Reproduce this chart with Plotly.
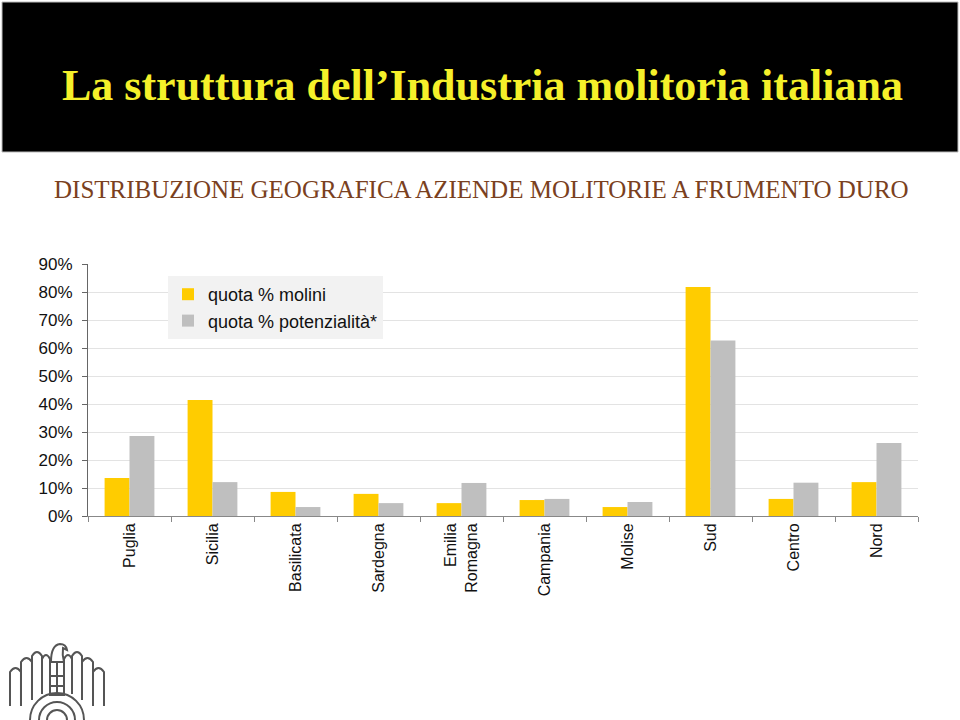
import plotly.graph_objects as go

W, H = 960, 720

categories = ["Puglia", "Sicilia", "Basilicata", "Sardegna", "Emilia<br>Romagna",
              "Campania", "Molise", "Sud", "Centro", "Nord"]
quota_molini = [0.136, 0.414, 0.086, 0.079, 0.046, 0.057, 0.032, 0.818, 0.061, 0.121]
quota_potenzialita = [0.286, 0.121, 0.032, 0.046, 0.118, 0.061, 0.050, 0.627, 0.119, 0.261]
series_names = ["quota % molini", "quota % potenzialità*"]
title_text = "La struttura dell\u2019Industria molitoria italiana"
subtitle_text = "DISTRIBUZIONE GEOGRAFICA AZIENDE MOLITORIE A FRUMENTO DURO"


def px(x):
    return x / W


def py(y):
    return 1 - y / H


fig = go.Figure()
fig.add_trace(go.Bar(x=categories, y=quota_molini, name=series_names[0],
                     marker=dict(color="#FFCC00", line=dict(width=0))))
fig.add_trace(go.Bar(x=categories, y=quota_potenzialita, name=series_names[1],
                     marker=dict(color="#BFBFBF", line=dict(width=0))))

axis_font = dict(family="Liberation Sans, Arial, sans-serif", size=17, color="#111111")

fig.update_layout(
    width=W, height=H,
    margin=dict(l=0, r=0, t=0, b=0),
    paper_bgcolor="white", plot_bgcolor="white",
    barmode="group", bargap=0.4, bargroupgap=0,
    showlegend=True,
    legend=dict(x=px(168), y=py(276), xanchor="left", yanchor="top",
                bgcolor="#F2F2F2", borderwidth=0,
                font=dict(family="Liberation Sans, Arial, sans-serif", size=18, color="#111111"),
                itemwidth=30, tracegroupgap=0),
    xaxis=dict(domain=[px(88), px(918)], showline=True, linecolor="#888888", linewidth=1,
               ticks="outside", tickson="boundaries", ticklen=5, tickcolor="#888888",
               tickangle=-90, automargin=False, showgrid=False,
               tickfont=dict(family="Liberation Sans Narrow, Arial Narrow, Liberation Sans, sans-serif",
                             size=16, color="#111111")),
    yaxis=dict(domain=[py(516), py(264)], range=[0, 0.9], dtick=0.1, tickformat=".0%",
               showline=True, linecolor="#666666", linewidth=1, ticks="outside", ticklen=5,
               tickcolor="#666666", showgrid=True, gridcolor="#E3E3E3", gridwidth=1,
               zeroline=False, automargin=False, ticklabelstandoff=6, tickfont=axis_font),
)

shapes = []
# black title band
shapes.append(dict(type="rect", xref="paper", yref="paper",
                   x0=px(2), x1=px(958), y0=py(152), y1=py(2),
                   fillcolor="black", line=dict(color="#BBBBBB", width=1), layer="below"))

annotations = [
    dict(text="<b>" + title_text + "</b>", x=px(482), y=py(85), xref="paper", yref="paper",
         showarrow=False, xanchor="center", yanchor="middle",
         font=dict(family="Liberation Serif, Times New Roman, serif", size=44, color="#F5F02A")),
    dict(text=subtitle_text, x=px(481), y=py(190), xref="paper", yref="paper",
         showarrow=False, xanchor="center", yanchor="middle",
         font=dict(family="Liberation Serif, Times New Roman, serif", size=25, color="#7A4020")),
]

# Logo (decorative eagle outline)
logo_col = "#555555"


def path(cmds):
    out = []
    for c in cmds:
        if isinstance(c, str):
            out.append(c)
        else:
            out.append("%.5f,%.5f" % (px(c[0]), py(c[1])))
    return " ".join(s for s in out if s)


cx = 57
feathers = [(10, 21, 668, 706), (21, 32, 658, 700), (32, 42, 652, 694), (42, 50, 655, 690)]
for (a, b, t, bt) in feathers:
    for (xa, xb) in [(a, b), (2 * cx - b, 2 * cx - a)]:
        p = path(["M", (xa, bt), "L", (xa, t + 4), "Q", ((xa + xb) / 2, t - 4), (xb, t + 4),
                  "L", (xb, bt)])
        shapes.append(dict(type="path", xref="paper", yref="paper", path=p,
                           line=dict(color=logo_col, width=2)))
# body
shapes.append(dict(type="rect", xref="paper", yref="paper", x0=px(50), x1=px(64),
                   y0=py(695), y1=py(662), line=dict(color=logo_col, width=2)))
for yy in (676, 686):
    shapes.append(dict(type="line", xref="paper", yref="paper", x0=px(50), x1=px(64),
                       y0=py(yy), y1=py(yy), line=dict(color=logo_col, width=2)))
shapes.append(dict(type="line", xref="paper", yref="paper", x0=px(57), x1=px(57),
                   y0=py(695), y1=py(662), line=dict(color=logo_col, width=2)))
# head
shapes.append(dict(type="path", xref="paper", yref="paper",
                   path=path(["M", (51, 662), "Q", (51, 645), (60, 644), "Q", (66, 644),
                              (67, 650), "L", (63, 648), "Q", (62, 655), (64, 662)]),
                   line=dict(color=logo_col, width=2)))
# bottom arcs
for r in (10, 18, 27):
    shapes.append(dict(type="circle", xref="paper", yref="paper",
                       x0=px(cx - r), x1=px(cx + r), y0=py(720 + r), y1=py(720 - r),
                       line=dict(color=logo_col, width=2)))

fig.update_layout(shapes=shapes, annotations=annotations)
fig.write_html("out.html", config={"displayModeBar": False},
               post_script="document.body.style.margin='0';")
